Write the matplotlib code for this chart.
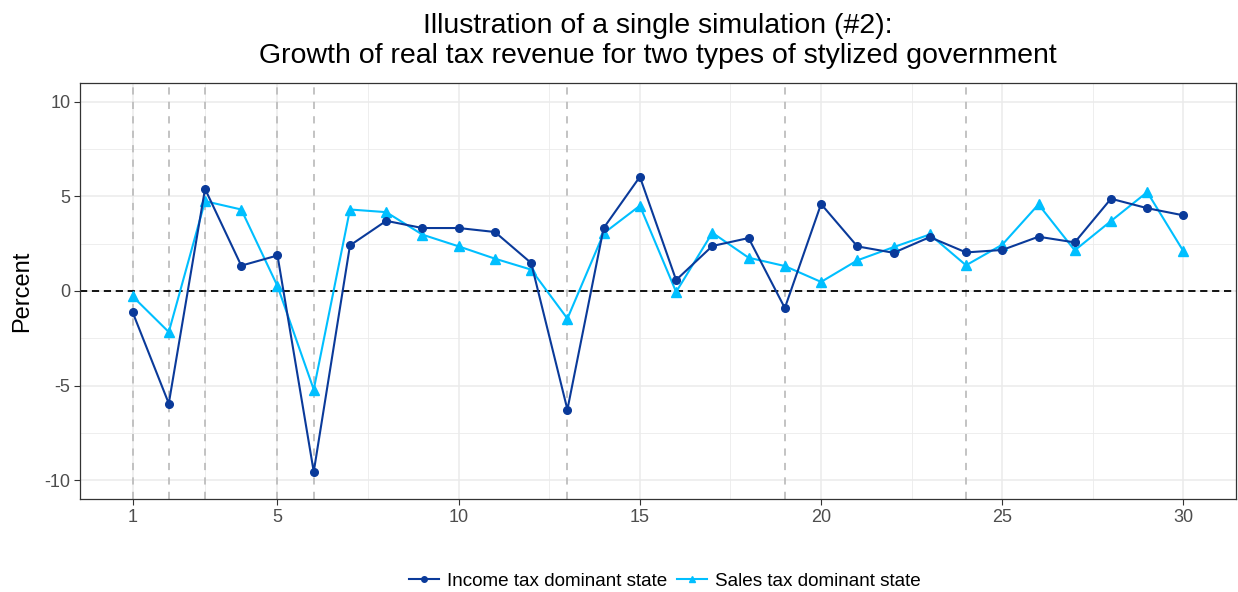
import matplotlib
matplotlib.use("Agg")
import matplotlib.pyplot as plt
from matplotlib.lines import Line2D

plt.rcParams['font.family'] = ['Liberation Sans', 'DejaVu Sans']

periods = list(range(1, 31))
income = [-1.11, -5.95, 5.40, 1.34, 1.88, -9.56, 2.41, 3.71, 3.33, 3.33,
          3.12, 1.48, -6.27, 3.33, 6.04, 0.58, 2.38, 2.80, -0.90, 4.60,
          2.36, 2.02, 2.85, 2.04, 2.17, 2.87, 2.57, 4.88, 4.38, 4.00]
sales = [-0.28, -2.17, 4.75, 4.31, 0.26, -5.21, 4.31, 4.17, 2.98, 2.36,
         1.71, 1.13, -1.46, 3.05, 4.51, -0.05, 3.08, 1.76, 1.32, 0.48,
         1.62, 2.32, 2.99, 1.36, 2.45, 4.58, 2.15, 3.70, 5.23, 2.10]
shock_periods = [1, 2, 3, 5, 6, 13, 19, 24]
x_ticks = [1, 5, 10, 15, 20, 25, 30]
x_minor = [3, 7.5, 12.5, 17.5, 22.5, 27.5]
y_ticks = [-10, -5, 0, 5, 10]
y_minor = [-7.5, -2.5, 2.5, 7.5]
title_lines = ['Illustration of a single simulation (#2):',
               'Growth of real tax revenue for two types of stylized government']
labels = ['Income tax dominant state', 'Sales tax dominant state']

dark = '#0a3a9a'
light = '#00bfff'

W, H = 1238, 592
fig = plt.figure(figsize=(W/100, H/100), dpi=100)
ax = fig.add_axes([80/W, 1-499/H, (1236-80)/W, (499-83)/H])

ax.set_xlim(-0.45, 31.45)
ax.set_ylim(-11, 11)
for v in x_ticks:
    ax.axvline(v, color='#ebebeb', lw=1.1, zorder=0)
for v in x_minor:
    ax.axvline(v, color='#ebebeb', lw=0.6, zorder=0)
for v in y_ticks:
    ax.axhline(v, color='#ebebeb', lw=1.1, zorder=0)
for v in y_minor:
    ax.axhline(v, color='#ebebeb', lw=0.6, zorder=0)

for v in shock_periods:
    ax.axvline(v, color='#bebebe', lw=1.3, ls=(0, (4, 4)), zorder=1)
ax.axhline(0, color='black', lw=1.3, ls=(0, (4, 2.6)), zorder=1)

ax.plot(periods, income, color=dark, lw=1.5, marker='o', ms=5.5, zorder=3,
        label=labels[0])
ax.plot(periods, sales, color=light, lw=1.5, marker='^', ms=6.5, zorder=2,
        label=labels[1])

ax.set_xticks(x_ticks)
ax.set_yticks(y_ticks)
ax.set_yticklabels([str(v) for v in y_ticks])
ax.tick_params(axis='both', labelsize=13, colors='#333333', labelcolor='#4d4d4d',
               length=4, width=0.8, pad=3)
for s in ax.spines.values():
    s.set_color('#333333')
    s.set_linewidth(0.9)

ax.set_ylabel('Percent', fontsize=17, labelpad=8)
cx = 658 / W
fig.text(cx, 1-33/H, title_lines[0], ha='center', va='baseline', fontsize=20.5)
fig.text(cx, 1-63/H, title_lines[1], ha='center', va='baseline', fontsize=20.5)

handles = [Line2D([], [], color=dark, marker='o', ms=4, lw=1.5),
           Line2D([], [], color=light, marker='^', ms=5, lw=1.5)]
fig.legend(handles, labels,
           loc='center', bbox_to_anchor=(665/W, 1-581/H), ncol=2, frameon=False,
           fontsize=13.6, handlelength=1.59, handletextpad=0.45, columnspacing=0.48)

fig.savefig('out.png', dpi=100)
